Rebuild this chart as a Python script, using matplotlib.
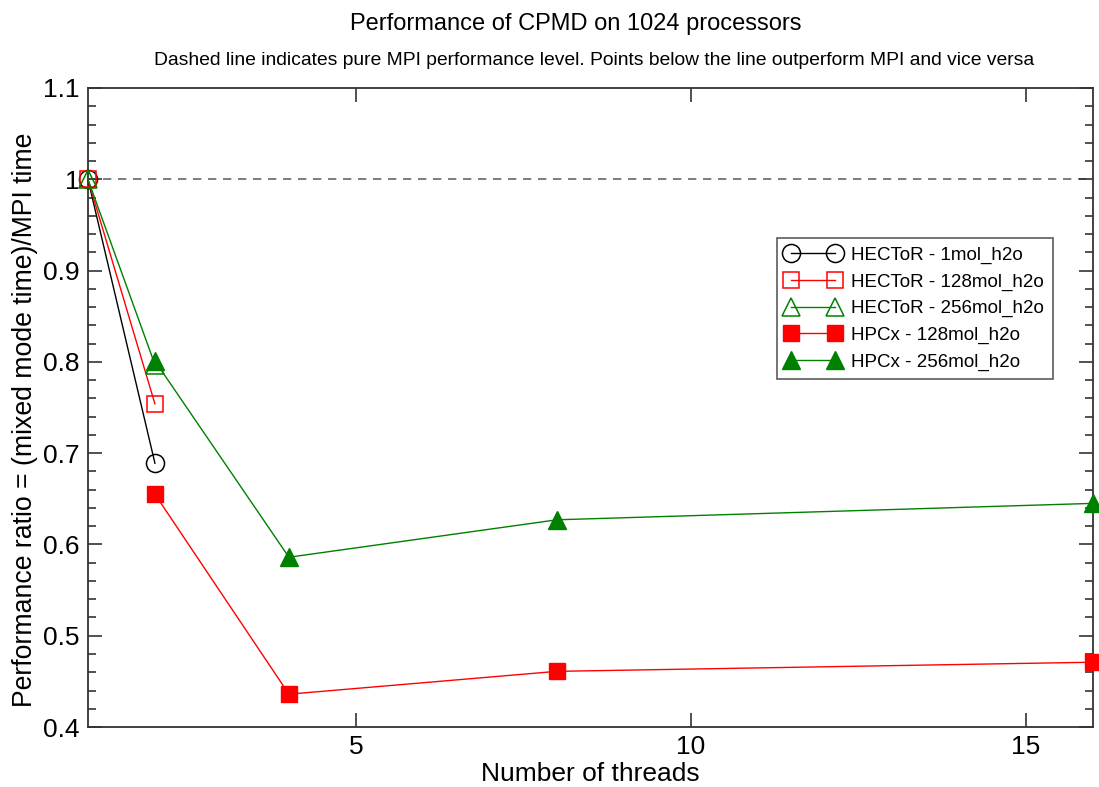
import matplotlib
matplotlib.use("Agg")
import matplotlib.pyplot as plt
from matplotlib.ticker import MultipleLocator, FixedLocator, FuncFormatter

plt.rcParams['font.family'] = ['Liberation Sans', 'DejaVu Sans']

# Thread counts and performance ratios (mixed mode time / MPI time)
threads_hector = [1, 2]
hector_1mol = [1.0, 0.689]
hector_128mol = [1.0, 0.754]
hector_256mol = [1.0, 0.797]

threads_hpcx = [2, 4, 8, 16]
hpcx_128mol = [0.655, 0.436, 0.461, 0.471]
hpcx_256mol = [0.801, 0.586, 0.627, 0.645]

mpi_level = 1.0

fig = plt.figure(figsize=(10.99, 7.87), dpi=100)
ax = fig.add_axes([0.080, 0.0762, 0.9145, 0.812])

ax.axhline(mpi_level, color='#666666', lw=1.2, ls=(0, (5, 4)), zorder=1)

common = dict(lw=1, clip_on=False, zorder=3)
ax.plot(threads_hector, hector_1mol, color='black', marker='o', ms=13,
        mfc='none', mec='black', mew=1.1, label='HECToR - 1mol_h2o', **common)
ax.plot(threads_hector, hector_128mol, color='red', marker='s', ms=11.5,
        mfc='none', mec='red', mew=1.1, label='HECToR - 128mol_h2o', **common)
ax.plot(threads_hector, hector_256mol, color='green', marker='^', ms=12.5,
        mfc='none', mec='green', mew=1.1, label='HECToR - 256mol_h2o', **common)
ax.plot(threads_hpcx, hpcx_128mol, color='red', marker='s', ms=12,
        mfc='red', mec='red', label='HPCx - 128mol_h2o', **common)
ax.plot(threads_hpcx, hpcx_256mol, color='green', marker='^', ms=13.5,
        mfc='green', mec='green', label='HPCx - 256mol_h2o', **common)

ax.set_xlim(1, 16)
ax.set_ylim(0.4, 1.1)
ax.xaxis.set_major_locator(FixedLocator([5, 10, 15]))
ax.yaxis.set_major_locator(FixedLocator([0.4, 0.5, 0.6, 0.7, 0.8, 0.9, 1.0, 1.1]))
ax.yaxis.set_minor_locator(MultipleLocator(0.02))
ax.yaxis.set_major_formatter(FuncFormatter(lambda v, p: f"{v:g}"))

ax.tick_params(which='both', direction='in', top=True, right=True,
               colors='#333333', labelcolor='black')
ax.tick_params(which='major', length=10, width=1.2, labelsize=19, pad=6)
ax.tick_params(which='minor', length=6, width=1.2)
for s in ax.spines.values():
    s.set_color('#333333')
    s.set_linewidth(1.3)

ax.set_xlabel('Number of threads', fontsize=19, labelpad=2)
ax.set_ylabel('Performance ratio = (mixed mode time)/MPI time', fontsize=19.2)
ax.yaxis.set_label_coords(-0.050, 0.48)

fig.text(0.524, 0.970, 'Performance of CPMD on 1024 processors',
         ha='center', va='center', fontsize=17)
fig.text(0.541, 0.923, 'Dashed line indicates pure MPI performance level. Points below the line outperform MPI and vice versa',
         ha='center', va='center', fontsize=13.9)

leg = ax.legend(loc='upper left', bbox_to_anchor=(0.686, 0.765), fontsize=13.5,
                frameon=True, fancybox=False, edgecolor='#333333',
                numpoints=2, handlelength=2.9, handletextpad=0.6,
                borderpad=0.45, labelspacing=0.5, borderaxespad=0)
leg.get_frame().set_linewidth(1.2)

fig.savefig('out.png', dpi=100)
